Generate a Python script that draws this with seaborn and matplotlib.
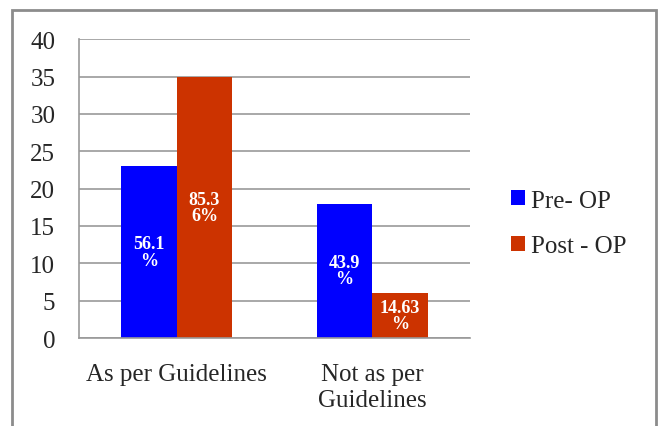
import pandas as pd
import numpy as np
import matplotlib.pyplot as plt
import seaborn as sns
from matplotlib.patches import Rectangle

# data
categories = ["As per Guidelines", "Not as per\nGuidelines"]
groups = ["Pre- OP", "Post - OP"]
pre_op = [23, 18]
post_op = [35, 6]
pre_labels = ["56.1\n%", "43.9\n%"]
post_labels = ["85.3\n6%", "14.63\n%"]

df = pd.DataFrame({
    "category": categories * 2,
    "group": [groups[0]] * 2 + [groups[1]] * 2,
    "value": pre_op + post_op,
})

sns.set_style("white")
plt.rcParams["font.family"] = ["Liberation Serif", "DejaVu Serif"]

fig = plt.figure(figsize=(6.63, 4.27), dpi=100)
ax = fig.add_axes([0.119, 0.206, 0.59, 0.7])

sns.barplot(data=df, x="category", y="value", hue="group",
            palette=["#0000FF", "#CC3300"], width=0.57, ax=ax,
            saturation=1, linewidth=0)

# value labels inside the bars
for cont, labs in zip(ax.containers, [pre_labels, post_labels]):
    ax.bar_label(cont, labels=labs, label_type="center", color="white",
                 fontweight="bold", fontsize=13, linespacing=0.95)

ax.set_ylim(0, 40)
ax.set_xlim(-0.5, 1.5)
ax.set_yticks(np.arange(0, 41, 5))
ax.yaxis.grid(True, color="#999999", linewidth=1.2)
ax.set_axisbelow(True)
ax.set_xlabel("")
ax.set_ylabel("")
for s in ["top", "right"]:
    ax.spines[s].set_visible(False)
for s in ["left", "bottom"]:
    ax.spines[s].set_color("#999999")
    ax.spines[s].set_linewidth(1.2)

ax.tick_params(axis="y", length=8, width=1.2, color="#999999",
               labelsize=18, pad=9)
ax.tick_params(axis="x", which="major", length=0, labelsize=18, pad=18)
ax.set_xticks([-0.5, 0.5, 1.5], minor=True)
ax.tick_params(axis="x", which="minor", length=8, width=1.2, color="#999999")
for t in ax.get_xticklabels():
    t.set_linespacing(1.25)

sns.move_legend(ax, "center left", bbox_to_anchor=(0.737, 0.474),
                bbox_transform=fig.transFigure, title=None, frameon=False,
                fontsize=18, handlelength=0.55, handleheight=0.55,
                handletextpad=0.25, labelspacing=0.95)

# outer chart border
fig.patches.append(Rectangle((0.018, -0.01), 0.972, 0.985, transform=fig.transFigure,
                             fill=False, edgecolor="#8c8c8c", linewidth=2))

plt.savefig("out.png", dpi=100)
